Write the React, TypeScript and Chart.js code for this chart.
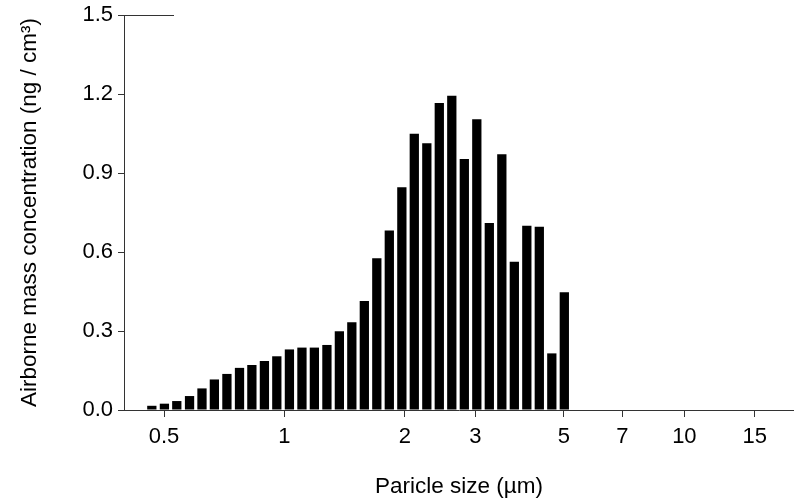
import { useEffect, useRef } from "react";
import { Chart, registerables } from "chart.js";

Chart.register(...registerables);

// Aerodynamic particle size channel midpoints (µm)
const particleSizes = [
  0.466, 0.501, 0.538, 0.579, 0.622, 0.668, 0.718, 0.772, 0.829, 0.891,
  0.957, 1.029, 1.106, 1.188, 1.277, 1.372, 1.474, 1.584, 1.702, 1.829,
  1.966, 2.112, 2.27, 2.439, 2.621, 2.817, 3.027, 3.253, 3.496, 3.757,
  4.037, 4.338, 4.662, 5.01,
];

// Airborne mass concentration (ng / cm³)
const massConcentration = [
  0.016, 0.024, 0.034, 0.053, 0.082, 0.116, 0.137, 0.16, 0.171, 0.186,
  0.204, 0.23, 0.237, 0.237, 0.247, 0.299, 0.333, 0.414, 0.576, 0.682,
  0.846, 1.049, 1.013, 1.166, 1.193, 0.953, 1.104, 0.71, 0.971, 0.563,
  0.7, 0.696, 0.215, 0.447,
];

const xTickValues = [0.5, 1, 2, 3, 5, 7, 10, 15];
const yTickValues = [0, 0.3, 0.6, 0.9, 1.2, 1.5];

const xTitle = "Paricle size (µm)";
const yTitle = "Airborne mass concentration (ng / cm³)";

const FONT = "'Liberation Sans', Arial, Helvetica, sans-serif";
const AXIS_COLOR = "#333333";

export default function App() {
  const ref = useRef<HTMLCanvasElement>(null);

  useEffect(() => {
    document.body.style.margin = "0";
    const canvas = ref.current;
    if (!canvas) return;

    // short top stub next to the y axis, as in the reference
    const topStub = {
      id: "topStub",
      afterDraw(chart: any) {
        const { ctx, chartArea } = chart;
        ctx.save();
        ctx.strokeStyle = AXIS_COLOR;
        ctx.lineWidth = 1;
        const y = Math.round(chartArea.top) + 0.5;
        ctx.beginPath();
        ctx.moveTo(chartArea.left, y);
        ctx.lineTo(chartArea.left + 50, y);
        ctx.stroke();
        ctx.restore();
      },
    };

    const chart = new Chart(canvas, {
      type: "bar",
      data: {
        datasets: [
          {
            data: particleSizes.map((x, i) => ({ x, y: massConcentration[i] })),
            backgroundColor: "#000000",
            borderWidth: 0,
            barPercentage: 0.75,
            categoryPercentage: 1,
          },
        ],
      },
      options: {
        animation: false,
        responsive: false,
        devicePixelRatio: 1,
        layout: { padding: { top: 15, right: 0, left: 0, bottom: 0 } },
        plugins: {
          legend: { display: false },
          tooltip: { enabled: false },
        },
        scales: {
          x: {
            type: "logarithmic",
            min: 0.397,
            max: 18.8,
            bounds: "data",
            offset: false,
            afterBuildTicks: (s: any) => {
              s.ticks = xTickValues.map((v) => ({ value: v }));
            },
            afterFit: (s: any) => {
              s.height = 92;
            },
            grid: {
              display: true,
              drawOnChartArea: false,
              drawTicks: true,
              tickLength: 7,
              color: AXIS_COLOR,
              offset: false,
            },
            border: { display: true, color: AXIS_COLOR, width: 1 },
            ticks: {
              autoSkip: false,
              maxRotation: 0,
              minRotation: 0,
              color: "#000000",
              font: { family: FONT, size: 22 },
              padding: 7,
              callback: (v: any) => String(v),
            },
            title: {
              display: true,
              text: xTitle,
              color: "#000000",
              font: { family: FONT, size: 22.5, lineHeight: 1 },
              padding: { top: 0, bottom: 4 },
            },
          },
          y: {
            type: "linear",
            min: 0,
            max: 1.5,
            afterBuildTicks: (s: any) => {
              s.ticks = yTickValues.map((v) => ({ value: v }));
            },
            afterFit: (s: any) => {
              s.width = 124;
              s.paddingTop = 0;
              s.paddingBottom = 0;
            },
            grid: {
              display: true,
              drawOnChartArea: false,
              drawTicks: true,
              tickLength: 6,
              color: AXIS_COLOR,
            },
            border: { display: true, color: AXIS_COLOR, width: 1 },
            ticks: {
              color: "#000000",
              font: { family: FONT, size: 22, lineHeight: 1 },
              padding: 5,
              callback: (v: any) => Number(v).toFixed(1),
            },
            title: {
              display: true,
              text: yTitle,
              color: "#000000",
              font: { family: FONT, size: 22.5, lineHeight: 1 },
              padding: { top: 19, bottom: 0 },
            },
          },
        },
      },
      plugins: [topStub],
    } as any);

    return () => chart.destroy();
  }, []);

  return (
    <canvas
      ref={ref}
      width={794}
      height={502}
      style={{ display: "block", width: "794px", height: "502px" }}
    />
  );
}
